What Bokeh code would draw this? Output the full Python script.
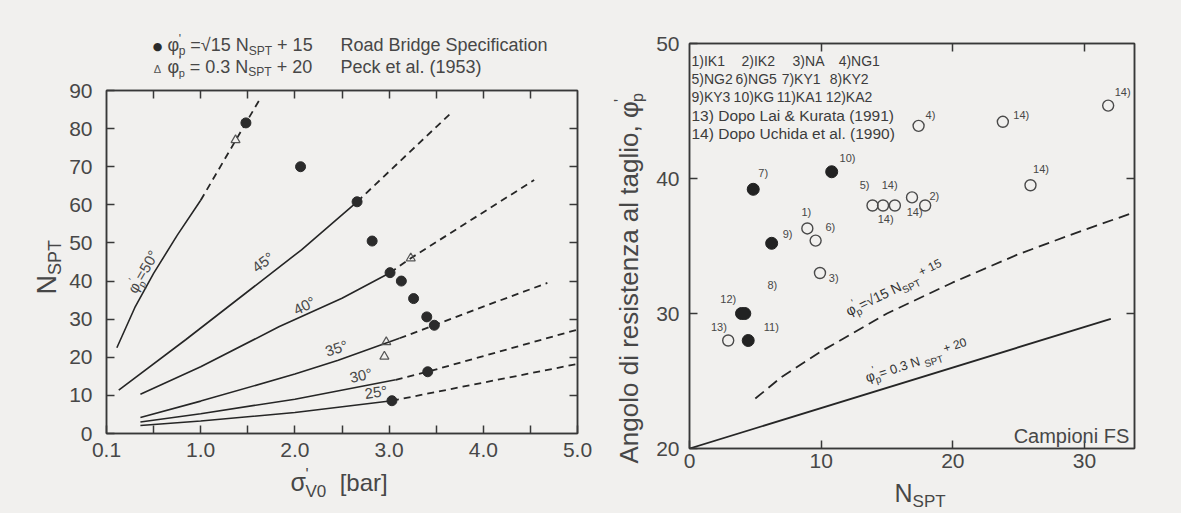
import math
from bokeh.plotting import figure
from bokeh.layouts import row, column
from bokeh.models import Label, LinearAxis, FixedTicker, Range1d
from bokeh.embed import file_html
from bokeh.resources import INLINE

# ---------------- left panel data (sigma'_v0 [bar] vs N_SPT) ----------------
rb_sigma = [1.48, 2.06, 2.66, 2.82, 3.01, 3.13, 3.26, 3.40, 3.48, 3.41, 3.03]
rb_nspt = [81.5, 70.0, 60.8, 50.5, 42.2, 40.0, 35.4, 30.6, 28.4, 16.2, 8.6]
peck_sigma = [1.37, 3.23, 2.97, 2.95]
peck_nspt = [77.0, 46.0, 24.0, 20.2]

phi50_solid_s = [0.11, 0.30, 0.50, 0.75, 1.00]
phi50_solid_n = [22.5, 33.0, 42.0, 52.0, 61.2]
phi50_dash_s = [1.00, 1.48, 1.63]
phi50_dash_n = [61.2, 81.5, 87.8]
phi45_solid_s = [0.13, 0.84, 2.07, 2.66]
phi45_solid_n = [11.4, 24.6, 48.2, 60.8]
phi45_dash_s = [2.66, 3.67]
phi45_dash_n = [60.8, 84.4]
phi40_solid_s = [0.36, 1.00, 1.83, 2.50, 3.01]
phi40_solid_n = [10.3, 17.5, 28.0, 35.5, 42.2]
phi40_dash_s = [3.01, 3.23, 4.54]
phi40_dash_n = [42.2, 46.0, 66.5]
phi35_solid_s = [0.36, 1.00, 2.00, 2.46, 3.11]
phi35_solid_n = [4.2, 8.5, 15.6, 19.2, 25.0]
phi35_dash_s = [3.11, 3.48, 4.00, 4.68]
phi35_dash_n = [25.0, 28.4, 33.3, 39.5]
phi30_solid_s = [0.36, 1.00, 2.00, 3.07]
phi30_solid_n = [3.0, 5.2, 9.0, 14.1]
phi30_dash_s = [3.07, 3.41, 4.99]
phi30_dash_n = [14.1, 16.2, 27.2]
phi25_solid_s = [0.36, 1.00, 2.00, 3.03]
phi25_solid_n = [2.1, 3.3, 5.5, 8.6]
phi25_dash_s = [3.03, 4.99]
phi25_dash_n = [8.6, 18.2]

left_x_ticks = [0.0, 0.5, 1.0, 1.5, 2.0, 2.5, 3.0, 3.5, 4.0, 4.5, 5.0]
left_x_labels = ["0.1", "", "1.0", "", "2.0", "", "3.0", "", "4.0", "", "5.0"]
left_y_ticks = [0, 10, 20, 30, 40, 50, 60, 70, 80, 90]

# ---------------- right panel data (N_SPT vs phi'_p) ----------------
filled_n = [4.84, 6.24, 10.8, 4.46, 3.95, 4.20]
filled_phi = [39.2, 35.2, 40.5, 28.0, 30.0, 30.0]
open_n = [8.95, 17.9, 9.91, 17.4, 13.9, 9.58, 2.94, 14.7, 15.6, 16.9, 23.8, 25.9, 31.8]
open_phi = [36.3, 38.0, 33.0, 43.9, 38.0, 35.4, 28.0, 38.0, 38.0, 38.6, 44.2, 39.5, 45.4]

rbs_line_n = [5.0, 7.0, 10.0, 15.0, 20.0, 25.0, 30.0, 33.8]
rbs_line_phi = [23.7, 25.3, 27.2, 30.0, 32.3, 34.4, 36.2, 37.5]
peck_line_n = [0.0, 32.0]
peck_line_phi = [20.0, 29.6]

pt_label_text = ["7)", "10)", "9)", "1)", "6)", "3)", "8)", "12)", "13)", "11)",
                 "5)", "14)", "14)", "14)", "2)", "4)", "14)", "14)", "14)"]
pt_label_n = [5.6, 12.0, 7.45, 8.87, 10.7, 10.95, 6.29, 2.94, 2.23, 6.21,
              13.3, 15.2, 14.9, 17.1, 18.6, 18.3, 25.2, 26.7, 32.9]
pt_label_phi = [40.4, 41.5, 35.9, 37.5, 36.4, 32.6, 32.1, 31.1, 29.0, 29.0,
                39.5, 39.5, 37.0, 37.5, 38.7, 44.7, 44.7, 40.7, 46.4]

legend_rows = [["1)IK1", "2)IK2", "3)NA", "4)NG1"],
               ["5)NG2", "6)NG5", "7)KY1", "8)KY2"],
               ["9)KY3", "10)KG", "11)KA1", "12)KA2"],
               ["13) Dopo Lai & Kurata (1991)"],
               ["14) Dopo Uchida et al. (1990)"]]

right_x_ticks = [0, 10, 20, 30]
right_y_ticks = [20, 30, 40, 50]

# ---------------- styling ----------------
BG = "#f1f0ee"
INK = "#262626"
AX = "#383838"
TXT = "#474747"
FONT = "Liberation Sans"

W = {" ": .278, "!": .278, "'": .191, "(": .333, ")": .333, "+": .584, ",": .278,
     "-": .333, ".": .278, "=": .584, "[": .278, "]": .278, "&": .667, "°": .4,
     "A": .667, "B": .667, "C": .722, "D": .722, "F": .611, "G": .778, "I": .278,
     "K": .667, "L": .556, "N": .722, "O": .778, "P": .667, "R": .722, "S": .667,
     "T": .611, "U": .722, "V": .667, "Y": .667, "a": .556, "b": .556, "c": .5,
     "d": .556, "e": .556, "f": .278, "g": .556, "h": .556, "i": .222, "k": .5,
     "l": .222, "m": .833, "n": .556, "o": .556, "p": .556, "r": .333, "s": .5,
     "t": .278, "u": .556, "v": .5, "y": .5, "z": .5, "φ": .62, "σ": .6, "√": .55}


def text_w(t, size):
    return sum(W.get(ch, 0.556) for ch in t) * size


def rich(p, x, y, parts, angle=0.0, color=TXT, font=FONT):
    """Place text pieces along a baseline starting at (x, y); dy = baseline shift in px."""
    th = math.radians(angle)
    c, s = math.cos(th), math.sin(th)
    a = 0.0
    for t, size, dy, adv in parts:
        core = t.strip(" ")
        lead = len(t) - len(t.lstrip(" "))
        trail = len(t) - len(t.rstrip(" "))
        if adv:
            a += lead * W[" "] * size
        mid = dy + 0.35 * size
        ox = a * c - mid * s
        oy = a * s + mid * c
        p.add_layout(Label(x=x, y=y, x_offset=ox, y_offset=oy, text=core, angle=th,
                           text_font=font, text_font_size=f"{size}px",
                           text_color=color, text_baseline="middle",
                           text_align="left"))
        if adv:
            a += text_w(core, size) + trail * W[" "] * size


def lab(p, x, y, t, size, color=TXT, align="left", angle=0.0, font=FONT):
    p.add_layout(Label(x=x, y=y, text=t, text_font=font, text_font_size=f"{size}px",
                       text_color=color, text_align=align, text_baseline="middle",
                       angle=math.radians(angle)))


def style_axis(ax, ticks, labels=None, size=20, standoff=8):
    ax.ticker = FixedTicker(ticks=ticks)
    ax.major_tick_in = 8
    ax.major_tick_out = 0
    ax.minor_tick_line_color = None
    ax.axis_line_color = AX
    ax.axis_line_width = 1.5
    ax.major_tick_line_color = AX
    ax.major_tick_line_width = 1.5
    ax.major_label_text_font = FONT
    ax.major_label_text_color = TXT
    if labels is None:
        ax.major_label_overrides = {t: "" for t in ticks}
        ax.major_label_text_font_size = "1px"
        ax.major_label_standoff = 0
    else:
        ax.major_label_overrides = {t: l for t, l in zip(ticks, labels)}
        ax.major_label_text_font_size = f"{size}px"
        ax.major_label_standoff = standoff


def text_fig(width, height, xr, yr, bl=0, br=0):
    f = figure(width=width, height=height, x_range=Range1d(*xr), y_range=Range1d(*yr),
               x_axis_type=None, y_axis_type=None, output_backend="svg",
               toolbar_location=None, min_border_left=bl, min_border_right=br,
               min_border_top=0, min_border_bottom=0,
               background_fill_color=BG, border_fill_color=BG, outline_line_color=None)
    f.grid.visible = False
    return f


# ================= LEFT MAIN FIGURE =================
p1 = figure(width=534, height=384, x_range=Range1d(0, 5), y_range=Range1d(0, 90),
            output_backend="svg", toolbar_location=None,
            min_border_left=40, min_border_right=23, min_border_top=11, min_border_bottom=30,
            background_fill_color=BG, border_fill_color=BG,
            outline_line_color=AX, outline_line_width=1.5)
p1.grid.visible = False
style_axis(p1.xaxis[0], left_x_ticks, left_x_labels, size=21, standoff=9)
style_axis(p1.yaxis[0], left_y_ticks, [str(t) for t in left_y_ticks], size=21, standoff=14)
top1 = LinearAxis()
style_axis(top1, left_x_ticks[1:-1])
p1.add_layout(top1, "above")
right1 = LinearAxis()
style_axis(right1, left_y_ticks[1:-1])
p1.add_layout(right1, "right")

solid_sets = [(phi50_solid_s, phi50_solid_n), (phi45_solid_s, phi45_solid_n),
              (phi40_solid_s, phi40_solid_n), (phi35_solid_s, phi35_solid_n),
              (phi30_solid_s, phi30_solid_n), (phi25_solid_s, phi25_solid_n)]
dash_sets = [(phi50_dash_s, phi50_dash_n), (phi45_dash_s, phi45_dash_n),
             (phi40_dash_s, phi40_dash_n), (phi35_dash_s, phi35_dash_n),
             (phi30_dash_s, phi30_dash_n), (phi25_dash_s, phi25_dash_n)]
for xs, ys in solid_sets:
    p1.line(xs, ys, line_color=INK, line_width=1.6)
for xs, ys in dash_sets:
    p1.line(xs, ys, line_color=INK, line_width=1.8, line_dash="7 5")

p1.scatter(rb_sigma, rb_nspt, marker="circle", size=10, fill_color="#2b2b2b",
           line_color="#2b2b2b")
p1.scatter(peck_sigma, peck_nspt, marker="triangle", size=9, fill_color=None,
           line_color="#555555", line_width=1.2)

# angle labels on the curves
rich(p1, 0.31, 36.5, [("φ", 15, 0, True), ("'", 10, 7, False), ("p", 10, -4, True),
                      ("=50°", 15, 0, True)], angle=60)
lab(p1, 1.66, 45.0, "45°", 15, align="center", angle=37)
lab(p1, 2.10, 33.6, "40°", 15, align="center", angle=27)
lab(p1, 2.44, 22.4, "35°", 15, align="center", angle=18)
lab(p1, 2.70, 15.3, "30°", 15, align="center", angle=12)
lab(p1, 2.86, 10.9, "25°", 15, align="center", angle=8)

# ---- legend above the left frame (page pixel coordinates) ----
leg1 = text_fig(534, 79, (106, 577), (79, 0), bl=40, br=23)
lab(leg1, 157, 46, "●", 11, color="#2b2b2b", align="center", font="DejaVu Sans")
rich(leg1, 167, 51, [("φ", 18, 0, True), ("'", 12, 8, False), ("p", 12, -4, True),
                     (" =√15 N", 18, 0, True), ("SPT", 12, -4, True), (" + 15", 18, 0, True)])
rich(leg1, 340, 51, [("Road Bridge Specification", 18, 0, True)])
lab(leg1, 157, 68, "Δ", 11, color="#555555", align="center")
rich(leg1, 167, 73, [("φ", 18, 0, True), ("'", 12, 8, False), ("p", 11, -3, True),
                     (" = 0.3 N", 18, 0, True), ("SPT", 12, -3, True), (" + 20", 18, 0, True)])
rich(leg1, 340, 73, [("Peck et al. (1953)", 18, 0, True)])

# ---- left axis titles ----
ytit1 = text_fig(66, 513, (0, 66), (513, 0))
rich(ytit1, 56, 294, [("N", 27, 0, True), ("SPT", 18, -5, True)], angle=90)
xtit1 = text_fig(534, 50, (106, 577), (513, 463), bl=40, br=23)
rich(xtit1, 290, 490, [("σ", 25, 0, True), ("'", 16, 10, False), ("V0", 17, -7, True),
                       ("  [bar]", 24, 0, True)])

# ================= RIGHT MAIN FIGURE =================
p2 = figure(width=531, height=478, x_range=Range1d(0, 33.8), y_range=Range1d(20, 50),
            output_backend="svg", toolbar_location=None,
            min_border_left=39, min_border_right=47, min_border_top=43, min_border_bottom=30,
            background_fill_color=BG, border_fill_color=BG,
            outline_line_color=AX, outline_line_width=1.5)
p2.grid.visible = False
style_axis(p2.xaxis[0], right_x_ticks, [str(t) for t in right_x_ticks], size=21, standoff=5)
style_axis(p2.yaxis[0], right_y_ticks, [str(t) for t in right_y_ticks], size=21, standoff=10)
top2 = LinearAxis()
style_axis(top2, right_x_ticks[1:])
p2.add_layout(top2, "above")
right2 = LinearAxis()
style_axis(right2, right_y_ticks[1:3])
p2.add_layout(right2, "right")

p2.line(rbs_line_n, rbs_line_phi, line_color=INK, line_width=1.8, line_dash="11 6")
p2.line(peck_line_n, peck_line_phi, line_color=INK, line_width=1.8)
p2.scatter(filled_n, filled_phi, marker="circle", size=12, fill_color="#222222",
           line_color="#222222")
p2.scatter(open_n, open_phi, marker="circle", size=11, fill_color=None,
           line_color="#4a4a4a", line_width=1.4)

for t, xn, yp in zip(pt_label_text, pt_label_n, pt_label_phi):
    lab(p2, xn, yp, t, 11, align="center")

legend_x = [[0.15, 3.95, 7.83, 11.33],
            [0.15, 3.50, 7.00, 10.65],
            [0.15, 3.35, 6.62, 10.34],
            [0.15], [0.15]]
legend_y = [48.7, 47.4, 46.05, 44.65, 43.3]
legend_size = [14, 14, 14, 15.5, 15.5]
for items, xs, yv, fs in zip(legend_rows, legend_x, legend_y, legend_size):
    for t, xv in zip(items, xs):
        lab(p2, xv, yv, t, fs, color="#3c3c3c")

lab(p2, 33.4, 20.9, "Campioni FS", 20, align="right")

rich(p2, 12.1, 29.8, [("φ", 14, 0, True), ("'", 10, 7, False), ("p", 10, -4, True),
                      ("=√15 N", 14, 0, True), ("SPT", 10, -4, True), (" + 15", 12, 4, True)],
     angle=26, color="#333333")
rich(p2, 13.5, 24.9, [("φ", 14, 0, True), ("'", 10, 7, False), ("p", 10, -4, True),
                      ("=  0.3 N", 13, 0, True), ("SPT", 10, -4, True), (" + 20", 12, 4, True)],
     angle=18, color="#333333")

# ---- right axis titles ----
ytit2 = text_fig(50, 513, (600, 650), (513, 0))
rich(ytit2, 638, 463, [("Angolo di resistenza al taglio, φ", 26, 0, True),
                       ("'", 16, 12, False), ("p", 16, -5, True)], angle=90)
xtit2 = text_fig(531, 35, (689, 1134), (513, 478), bl=39, br=47)
rich(xtit2, 894, 501, [("N", 25, 0, True), ("SPT", 17, -6, True)])

left_col = column(leg1, p1, xtit1, styles={"background-color": BG})
right_col = column(p2, xtit2, styles={"background-color": BG})
layout = row(ytit1, left_col, ytit2, right_col, styles={"background-color": BG})
open("out.html", "w").write(file_html(layout, INLINE))
